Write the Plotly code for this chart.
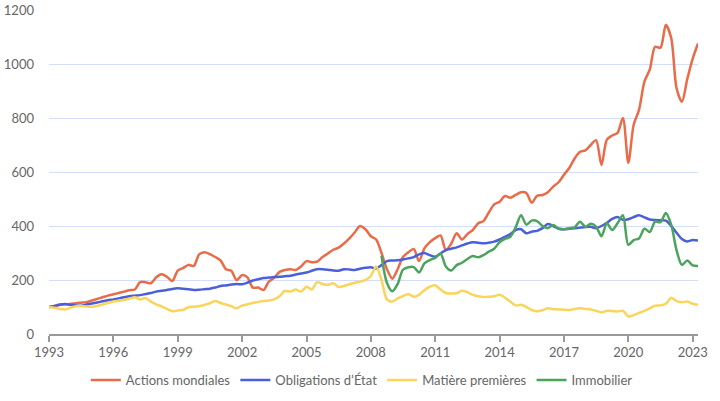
import pandas as pd
import plotly.graph_objects as go

dates = pd.date_range("1993-01-01", periods=122, freq="QS")

actions = [100, 103, 107, 110, 111, 114, 116, 118, 124, 130, 136, 142,
           147, 152, 157, 162, 165, 192, 192, 188, 210, 221, 212, 196,
           235, 244, 256, 252, 295, 303, 296, 285, 272, 240, 234, 200,
           218, 210, 172, 172, 163, 194, 208, 230, 237, 240, 237, 250,
           270, 266, 268, 285, 298, 312, 320, 335, 354, 376, 400, 388,
           362, 350, 300, 240, 205, 240, 285, 303, 315, 270, 317, 340,
           355, 365, 311, 335, 373, 350, 370, 385, 410, 418, 450, 480,
           490, 511, 505, 515, 525, 522, 486, 512, 515, 525, 546, 562,
           590, 615, 650, 675, 680, 700, 718, 626, 720, 735, 745, 800,
           634, 775, 830, 935, 980, 1064, 1060, 1145, 1095, 910, 860, 945,
           1020, 1076]

obligations = [100, 104, 109, 111, 108, 106, 105, 109, 113, 117, 121, 125,
               128, 132, 136, 140, 142, 144, 148, 152, 157, 160, 163, 167,
               169, 168, 166, 163, 164, 166, 168, 172, 178, 180, 183, 185,
               184, 190, 198, 203, 207, 209, 211, 212, 214, 216, 220, 224,
               228, 234, 240, 240, 238, 235, 234, 240, 239, 237, 242, 245,
               247, 243, 255, 270, 272, 273, 276, 280, 285, 295, 300, 292,
               286, 298, 311, 316, 321, 328, 335, 340, 338, 336, 338, 342,
               350, 360, 370, 385, 388, 373, 379, 382, 392, 407, 400, 390,
               388, 390, 392, 394, 396, 397, 392, 400, 412, 426, 433, 423,
               425, 433, 440, 432, 424, 422, 421, 420, 400, 375, 352, 343,
               348, 346]

matieres = [100, 97, 93, 91, 97, 103, 104, 102, 101, 104, 109, 115,
            120, 123, 126, 131, 136, 128, 133, 120, 110, 102, 93, 84,
            87, 89, 99, 101, 103, 108, 114, 122, 115, 109, 103, 95,
            105, 110, 115, 119, 122, 124, 128, 140, 160, 157, 165, 157,
            175, 165, 192, 185, 182, 188, 174, 178, 184, 190, 194, 200,
            215, 250, 200, 128, 120, 132, 140, 148, 138, 145, 162, 175,
            180, 165, 152, 150, 151, 160, 155, 145, 140, 137, 138, 140,
            145, 135, 120, 106, 108, 100, 89, 84, 88, 95, 92, 91,
            90, 89, 93, 95, 93, 91, 86, 80, 86, 85, 83, 86,
            65, 70, 78, 86, 95, 105, 106, 112, 134, 122, 118, 120,
            112, 108]

immobilier = [None] * 62 + [
    290, 190, 158, 185, 238, 247, 248, 228, 262, 274,
    282, 298, 250, 235, 255, 264, 278, 289, 284, 292, 305, 316,
    340, 352, 360, 395, 440, 405, 420, 418, 400, 392, 404, 390,
    388, 392, 395, 416, 397, 408, 398, 362, 410, 385, 410, 440,
    330, 348, 354, 390, 378, 416, 414, 448, 404, 310, 256, 272,
    254, 252]

names = ["Actions mondiales", "Obligations d\u2019\u00c9tat", "Mati\u00e8re premi\u00e8res", "Immobilier"]
colors = ["#EA6B48", "#4B60D8", "#F9D55C", "#4CA45C"]
series = [actions, obligations, matieres, immobilier]

tick_years = list(range(1993, 2024, 3))

fig = go.Figure()
for name, col, vals in zip(names, colors, series):
    fig.add_trace(go.Scatter(
        x=dates, y=vals, name=name, mode="lines",
        line=dict(color=col, width=2.5, shape="spline", smoothing=0.8),
        connectgaps=False,
    ))

fig.update_layout(
    width=720, height=401,
    margin=dict(l=49, r=22, t=10, b=67, autoexpand=False),
    paper_bgcolor="white", plot_bgcolor="white",
    font=dict(family="Lato, 'Open Sans', sans-serif", size=13, color="#666666"),
    showlegend=True,
    legend=dict(orientation="h", x=0.482, xanchor="center",
                yref="container", y=0.052, yanchor="middle",
                font=dict(size=13, color="#666666"),
                itemwidth=30, tracegroupgap=0),
)
fig.update_xaxes(
    type="date", automargin=False, tickangle=0,
    range=[pd.Timestamp("1993-01-01"), pd.Timestamp("2023-04-01")],
    tickvals=[pd.Timestamp(f"{y}-01-01") for y in tick_years],
    ticktext=[str(y) for y in tick_years],
    showgrid=False, showline=True, linecolor="#9a9a9a", linewidth=1.5,
    ticks="outside", ticklen=6, tickcolor="#9a9a9a", tickwidth=1.5,
    zeroline=False, tickfont=dict(size=13, color="#666666"),
)
fig.update_yaxes(
    range=[0, 1200], tickvals=[0, 200, 400, 600, 800, 1000, 1200],
    automargin=False,
    showgrid=True, gridcolor="#D3DEFA", gridwidth=1.2,
    zeroline=False, showline=False, ticks="",
    ticklabelstandoff=14, tickfont=dict(size=13, color="#666666"),
)

fig.write_html("out.html",
               config={"displayModeBar": False},
               post_script="document.body.style.margin='0px';document.body.style.padding='0px';document.body.style.overflow='hidden';")
